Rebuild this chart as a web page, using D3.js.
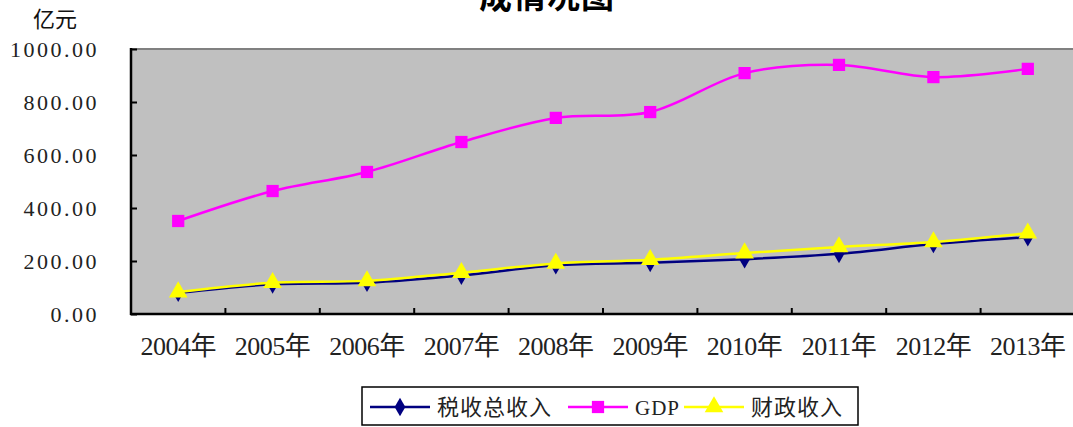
<!DOCTYPE html>
<html>
<head>
<meta charset="utf-8">
<script src="https://cdn.jsdelivr.net/npm/d3@7"></script>
<style>
body{margin:0;background:#fff;}
svg{display:block;}
</style>
</head>
<body>
<svg id="chart" width="1073" height="427"></svg>
<script>
// 年份
var YEARS=["2004年","2005年","2006年","2007年","2008年","2009年","2010年","2011年","2012年","2013年"];
// 税收总收入
var TAX=[80,112,118,145,184,193,207,227,264,290];
// GDP
var GDP=[351,464,536,649,740,762,909,940,894,925];
// 财政收入
var FISCAL=[83,118,125,156,191,205,230,253,272,305];
var Y_TICKS=[0,200,400,600,800,1000];
var SERIES_NAMES=["税收总收入","GDP","财政收入"];

var LEFT=131, TOP=49, RIGHT=1075, BOTTOM=314;
var FONT="'Liberation Serif','Noto Sans CJK SC',serif";

var svg=d3.select("#chart");

var x=d3.scaleBand().domain(YEARS).range([LEFT,RIGHT]);
var y=d3.scaleLinear().domain([0,1000]).range([BOTTOM,TOP]);

// 绘图区
svg.append("rect")
	.attr("x",LEFT).attr("y",TOP)
	.attr("width",RIGHT-LEFT).attr("height",BOTTOM-TOP)
	.style("fill","#c0c0c0");
svg.append("line")
	.attr("x1",LEFT).attr("x2",RIGHT).attr("y1",TOP).attr("y2",TOP)
	.style("stroke","#808080").style("stroke-width",2);

// 标题（上半部分被裁掉）
svg.append("text")
	.text("成情况图")
	.attr("x",547).attr("y",8)
	.attr("text-anchor","middle")
	.style("font-family","'Noto Sans CJK SC',sans-serif")
	.style("font-weight","bold")
	.style("font-size","33px")
	.style("letter-spacing","1px");

// 单位
svg.append("text")
	.text("亿元")
	.attr("x",33).attr("y",27)
	.style("font-family","'Noto Sans CJK SC',sans-serif")
	.style("font-size","22px")
	.style("fill","#111");

// y轴
var yAxis=d3.axisLeft(y).tickValues(Y_TICKS).tickSize(-6).tickPadding(0).tickFormat(d3.format(".2f"));
var gy=svg.append("g").attr("transform","translate("+LEFT+",0)").call(yAxis);
gy.select(".domain").remove();
gy.selectAll(".tick line").style("stroke","#000").style("stroke-width",2);
gy.selectAll(".tick text")
	.attr("x",-32).attr("dy","0.35em")
	.style("font-family",FONT).style("font-size","22px")
	.style("letter-spacing","2.5px").style("fill","#222");
svg.append("line")
	.attr("x1",LEFT).attr("x2",LEFT).attr("y1",TOP-1).attr("y2",BOTTOM+1)
	.style("stroke","#000").style("stroke-width",2.5);

// x轴
var gx=svg.append("g").attr("transform","translate(0,"+BOTTOM+")");
gx.selectAll("line.tk").data(YEARS.slice(1)).enter().append("line")
	.attr("class","tk")
	.attr("x1",function(d){return x(d);}).attr("x2",function(d){return x(d);})
	.attr("y1",0).attr("y2",-6)
	.style("stroke","#000").style("stroke-width",2);
gx.selectAll("text").data(YEARS).enter().append("text")
	.text(function(d){return d;})
	.attr("x",function(d){return x(d)+x.bandwidth()/2;})
	.attr("y",41)
	.attr("text-anchor","middle")
	.style("font-family",FONT).style("font-size","26px")
	.style("letter-spacing","-0.5px").style("fill","#222");
svg.append("line")
	.attr("x1",LEFT-1).attr("x2",RIGHT).attr("y1",BOTTOM).attr("y2",BOTTOM)
	.style("stroke","#000").style("stroke-width",2.5);

function cx(i){return x(YEARS[i])+x.bandwidth()/2;}

var line=d3.line()
	.x(function(d,i){return cx(i);})
	.y(function(d){return y(d);})
	.curve(d3.curveCatmullRom.alpha(0.5));

var diamond=d3.symbol().type(d3.symbolDiamond).size(100);
var square=d3.symbol().type(d3.symbolSquare).size(150);
var triangle=d3.symbol().type(d3.symbolTriangle).size(150);

var seriesList=[
	{data:TAX,color:"#000080",sym:diamond},
	{data:GDP,color:"#ff00ff",sym:square},
	{data:FISCAL,color:"#ffff00",sym:triangle}
];

seriesList.forEach(function(s){
	svg.append("path")
		.attr("d",line(s.data))
		.style("fill","none")
		.style("stroke",s.color)
		.style("stroke-width",2.5);
	svg.selectAll(null).data(s.data).enter().append("path")
		.attr("d",s.sym)
		.attr("transform",function(d,i){return "translate("+cx(i)+","+y(d)+")";})
		.style("fill",s.color);
});

// 图例
var legend=svg.append("g");
legend.append("rect")
	.attr("x",362).attr("y",387).attr("width",496).attr("height",38)
	.style("fill","#fff").style("stroke","#000").style("stroke-width",1.5);
var legendX=[370,568,684];
SERIES_NAMES.forEach(function(name,i){
	var lx=legendX[i], ly=407;
	legend.append("line")
		.attr("x1",lx).attr("x2",lx+60).attr("y1",ly).attr("y2",ly)
		.style("stroke",seriesList[i].color).style("stroke-width",2.5);
	legend.append("path")
		.attr("d",seriesList[i].sym)
		.attr("transform","translate("+(lx+30)+","+ly+")")
		.style("fill",seriesList[i].color);
	legend.append("text")
		.text(name)
		.attr("x",lx+67).attr("y",ly+8)
		.style("font-family",name=="GDP"?"'Liberation Serif',serif":"'Noto Sans CJK SC',sans-serif")
		.style("font-size",name=="GDP"?"21px":"22px")
		.style("letter-spacing",name=="GDP"?"1px":"1px")
		.style("fill","#222");
});
</script>
</body>
</html>
